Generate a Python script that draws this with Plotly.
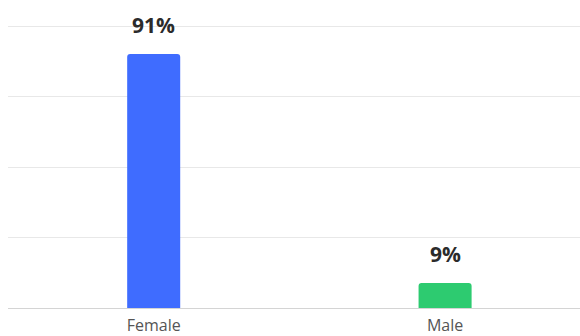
import plotly.graph_objects as go

categories = ["Female", "Male"]
values = [91, 9]
labels = ["91%", "9%"]
colors = ["#3F6CFF", "#2DCB70"]
grid_vals = [0, 25.25, 50.5, 75.75, 101]

fig = go.Figure()
fig.add_trace(go.Bar(
    x=categories, y=values,
    marker=dict(color=colors, cornerradius=3, line=dict(width=0)),
    width=0.182, hoverinfo="skip",
))
for c, v, t in zip(categories, values, labels):
    fig.add_annotation(x=c, y=v, text=t, showarrow=False, yanchor="bottom", yshift=13,
                       font=dict(family="Open Sans", size=21, color="#2b2b2b", weight="bold"))

fig.update_layout(
    width=580, height=336,
    margin=dict(l=8, r=0, t=20, b=28),
    plot_bgcolor="white", paper_bgcolor="white",
    showlegend=False,
    font=dict(family="Open Sans"),
)
fig.update_xaxes(range=[-0.5, 1.463], showline=True, linecolor="#d4d4d4", linewidth=1,
                 ticks="", tickfont=dict(size=16, color="#555555"), showgrid=False,
                 ticklabelstandoff=3, automargin=False)
fig.update_yaxes(range=[0, 103.2], tickvals=grid_vals, showticklabels=False,
                 gridcolor="#e8e8e8", gridwidth=1, zeroline=False, automargin=False)
fig.write_html("out.html")
